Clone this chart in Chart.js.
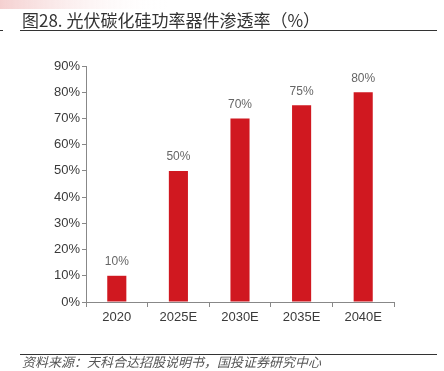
<!DOCTYPE html>
<html>
<head>
<meta charset="utf-8">
<script src="https://cdn.jsdelivr.net/npm/chart.js@4"></script>
<style>
  html, body { margin: 0; padding: 0; background: #fff; }
  #wrap { position: relative; width: 444px; height: 371px; }
</style>
</head>
<body>
<div id="wrap"><canvas id="chart" width="444" height="371"></canvas></div>
<script>
const categories = ['2020', '2025E', '2030E', '2035E', '2040E']
const penetration = [10, 50, 70, 75, 80]
const yTicks = [0, 10, 20, 30, 40, 50, 60, 70, 80, 90]

const titleText = '图28. 光伏碳化硅功率器件渗透率（%）'
const sourceText = '资料来源：天科合达招股说明书，国投证券研究中心'
const barColor = 'rgb(208, 24, 32)'
const cjk = '"Noto Sans CJK SC", "Noto Sans", sans-serif'

// 标题、分隔线、来源、数据标签
const decorPlugin = {
  id: 'decor',
  beforeDraw(chart) {
    const ctx = chart.ctx
    ctx.save()
    const g = ctx.createLinearGradient(0, 0, 170, 0)
    g.addColorStop(0, 'rgba(236, 170, 170, 0.55)')
    g.addColorStop(1, 'rgba(255, 255, 255, 0)')
    ctx.fillStyle = g
    ctx.fillRect(0, 0, 170, 9)

    ctx.fillStyle = '#333'
    ctx.font = '17px ' + cjk
    ctx.textBaseline = 'alphabetic'
    ctx.fillText(titleText, 22, 27)

    ctx.strokeStyle = '#333'
    ctx.lineWidth = 1
    ctx.beginPath()
    ctx.moveTo(20, 30.5)
    ctx.lineTo(437, 30.5)
    ctx.moveTo(20, 354.5)
    ctx.lineTo(437, 354.5)
    ctx.moveTo(0, 30.5)
    ctx.lineTo(3, 30.5)
    ctx.stroke()

    ctx.fillStyle = '#555'
    ctx.font = 'italic 13px ' + cjk
    ctx.fillText(sourceText, 22, 367)
    ctx.restore()
  },
  afterDatasetsDraw(chart) {
    const ctx = chart.ctx
    const meta = chart.getDatasetMeta(0)
    ctx.save()
    ctx.fillStyle = '#666'
    ctx.font = '12px "Liberation Sans Narrow", "Liberation Sans", sans-serif'
    ctx.textAlign = 'center'
    ctx.textBaseline = 'bottom'
    meta.data.forEach((bar, i) => {
      ctx.fillText(penetration[i] + '%', bar.x, bar.y - 8)
    })
    ctx.restore()
  },
}

Chart.register(decorPlugin)

new Chart(document.getElementById('chart'), {
  type: 'bar',
  data: {
    labels: categories,
    datasets: [
      {
        label: '渗透率',
        data: penetration,
        backgroundColor: barColor,
        barPercentage: 0.31,
        categoryPercentage: 1,
      },
    ],
  },
  options: {
    responsive: false,
    animation: false,
    layout: { padding: { left: 0, right: 50, top: 66, bottom: 39 } },
    plugins: {
      legend: { display: false },
      tooltip: { enabled: false },
    },
    scales: {
      x: {
        offset: true,
        grid: {
          offset: true,
          drawOnChartArea: false,
          tickLength: 5,
          color: '#888',
        },
        border: { color: '#888' },
        ticks: {
          color: '#3a3a3a',
          padding: 3,
          font: { family: 'Liberation Sans', size: 13 },
        },
        afterFit(scale) {
          scale.height = 30
        },
      },
      y: {
        min: 0,
        max: 90,
        afterBuildTicks(scale) {
          scale.ticks = yTicks.map((v) => ({ value: v }))
        },
        grid: {
          drawOnChartArea: false,
          tickLength: 4,
          color: '#888',
        },
        border: { color: '#888' },
        ticks: {
          color: '#3a3a3a',
          padding: 2,
          font: { family: 'Liberation Sans', size: 13 },
          callback: (v) => v + '%',
        },
        afterFit(scale) {
          scale.width = 86
        },
      },
    },
  },
})
</script>
</body>
</html>
